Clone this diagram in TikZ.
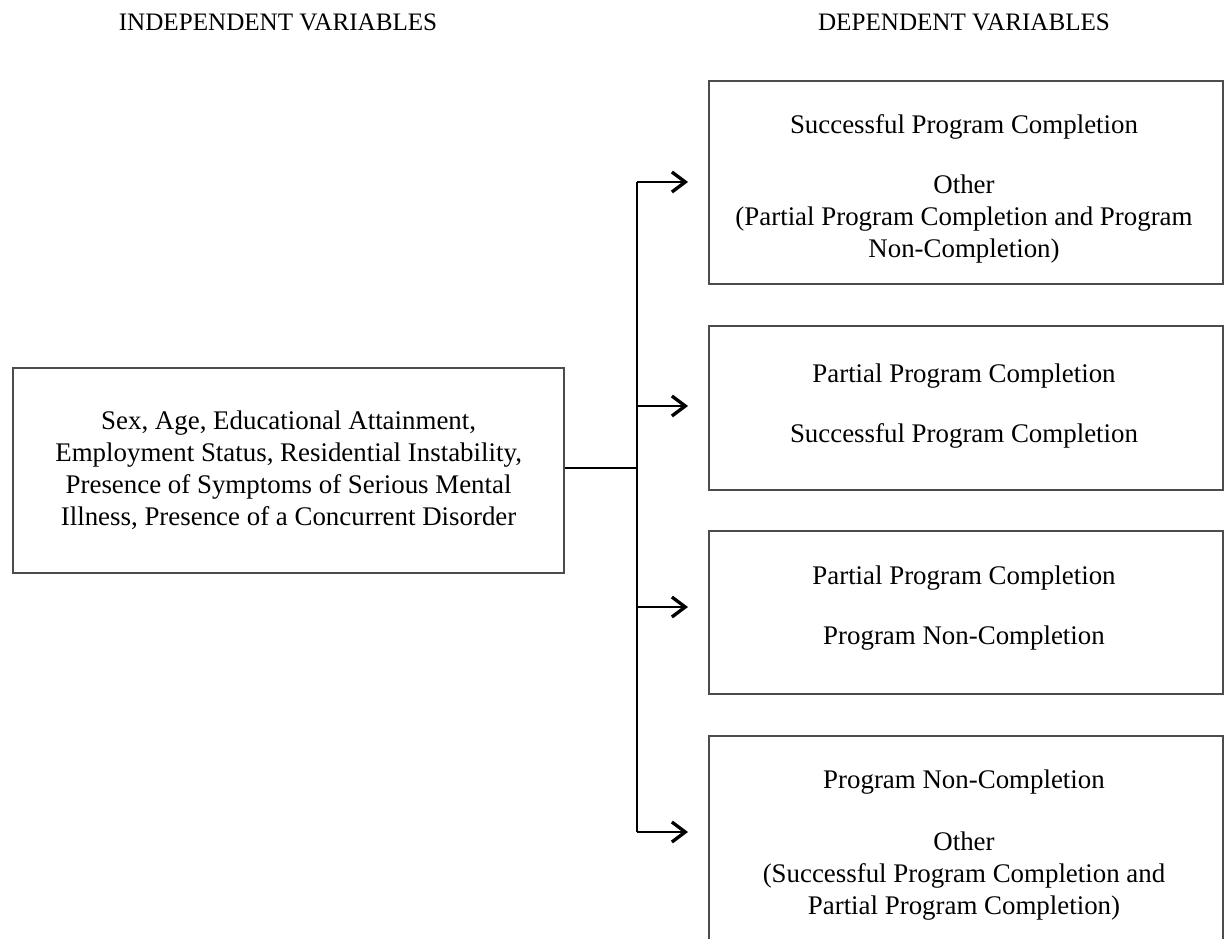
\documentclass[tikz,border=0pt]{standalone}
\usepackage{fontspec}
\setmainfont{Liberation Serif}
\usetikzlibrary{arrows.meta}
\begin{document}
\begin{tikzpicture}[x=0.45pt,y=-0.45pt,
  box/.style={draw=black!70,line width=1pt,inner sep=0pt,anchor=north west},
  txt/.style={align=center,inner sep=0pt,font=\fontsize{12.1}{14.4}\selectfont},
  ttl/.style={inner sep=0pt,font=\fontsize{11.3}{13}\selectfont},
  conn/.style={line width=1.3pt,black},
  arr/.style={conn,-{Straight Barb[length=6pt,width=9pt,line width=1.5pt]},shorten >=9pt}]
\useasboundingbox (0,0) rectangle (1227,938);
\clip (0,0) rectangle (1227,938);
% titles
\node[ttl] (ti) at (278,22) {INDEPENDENT VARIABLES};
\node[ttl] (td) at (964,22) {DEPENDENT VARIABLES};
% left box
\node[box,minimum width=551*0.45pt,minimum height=205*0.45pt] (L) at (12,367) {};
\node[txt] (Lt) at (L.center) {Sex, Age, Educational Attainment,\\Employment Status, Residential Instability,\\Presence of Symptoms of Serious Mental\\Illness, Presence of a Concurrent Disorder};
% right boxes
\node[box,minimum width=514*0.45pt,minimum height=203*0.45pt] (B1) at (708,80) {};
\node[box,minimum width=514*0.45pt,minimum height=164*0.45pt] (B2) at (708,325) {};
\node[box,minimum width=514*0.45pt,minimum height=163*0.45pt] (B3) at (708,530) {};
\node[box,minimum width=514*0.45pt,minimum height=240*0.45pt] (B4) at (708,735) {};
% texts
\node[txt] (b1a) at (964,127) {Successful Program Completion};
\node[txt] (b1b) at (964,219) {Other\\(Partial Program Completion and Program\\Non-Completion)};
\node[txt] (b2a) at (964,376) {Partial Program Completion};
\node[txt] (b2b) at (964,436) {Successful Program Completion};
\node[txt] (b3a) at (964,578) {Partial Program Completion};
\node[txt] (b3b) at (964,638) {Program Non-Completion};
\node[txt] (b4a) at (964,782) {Program Non-Completion};
\node[txt] (b4b) at (964,876) {Other\\(Successful Program Completion and\\Partial Program Completion)};
% connectors
\coordinate (J) at (637,468);
\coordinate (t1) at (637,182);
\coordinate (t2) at (637,406);
\coordinate (t3) at (637,607);
\coordinate (t4) at (637,832);
\draw[conn] (L.east |- J) -- (J);
\draw[conn] (t1) -- (t4);
\draw[arr] (t1) -- (t1 -| B1.west);
\draw[arr] (t2) -- (t2 -| B2.west);
\draw[arr] (t3) -- (t3 -| B3.west);
\draw[arr] (t4) -- (t4 -| B4.west);
\end{tikzpicture}
\end{document}
